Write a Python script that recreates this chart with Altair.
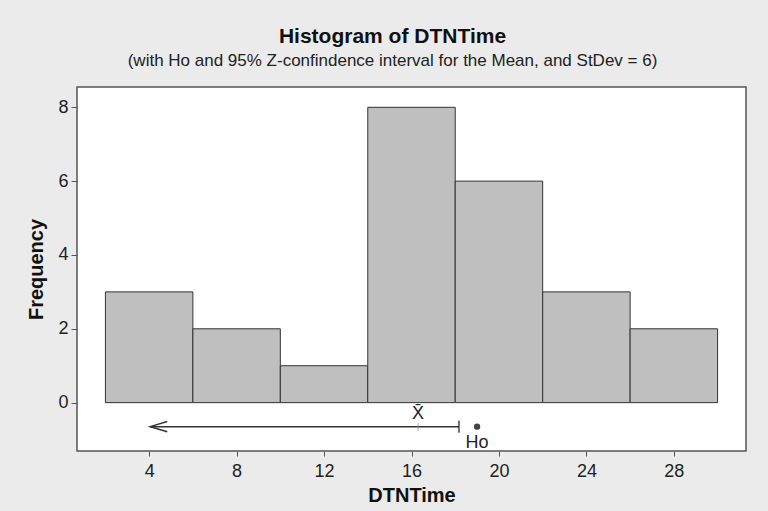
import altair as alt
import pandas as pd

# Histogram data
bin_left = [2, 6, 10, 14, 18, 22, 26]
bin_right = [6, 10, 14, 18, 22, 26, 30]
counts = [3, 2, 1, 8, 6, 3, 2]

# Confidence interval / hypothesis values
ci_arrow_end = [4.05]     # arrow tip (one-sided lower end drawn as arrow)
ci_upper = [18.17]
xbar = [16.3]
ho = [19.0]
ci_level_y = [-0.65]

x_ticks = [4, 8, 12, 16, 20, 24, 28]
y_ticks = [0, 2, 4, 6, 8]

FONT = "Liberation Sans"

hist = pd.DataFrame({"start": bin_left, "end": bin_right, "count": counts,
                     "zero": [0] * len(counts)})
ci = pd.DataFrame({"lo": ci_arrow_end, "hi": ci_upper, "xbar": xbar,
                   "ho": ho, "y": ci_level_y, "xlab": ["X̄"], "holab": ["Ho"]})

xs = alt.Scale(domain=[0.7, 31.3], nice=False, zero=False)
ys = alt.Scale(domain=[-1.31, 8.55], nice=False, zero=False)

xaxis = alt.Axis(values=x_ticks, title="DTNTime", grid=False, domain=False,
                 tickSize=5, tickColor="#555", labelPadding=6, titlePadding=5)
yaxis = alt.Axis(values=y_ticks, title="Frequency", grid=False, domain=False,
                 tickSize=6, tickColor="#555", labelPadding=3, titlePadding=11)

bars = alt.Chart(hist).mark_rect(fill="#bfbfbf", stroke="#333333", strokeWidth=1).encode(
    x=alt.X("start:Q", scale=xs, axis=xaxis),
    x2="end:Q",
    y=alt.Y("zero:Q", scale=ys, axis=yaxis),
    y2="count:Q",
)

base = alt.Chart(ci)

line = base.mark_rule(color="#333333", strokeWidth=1.5).encode(
    x=alt.X("lo:Q", scale=xs), x2="hi:Q", y=alt.Y("y:Q", scale=ys))

arrow = base.mark_point(shape="M2,-0.6L0,0L2,0.6", size=289, filled=False,
                        color="#333333", strokeWidth=1.5, opacity=1).encode(
    x=alt.X("lo:Q", scale=xs), y=alt.Y("y:Q", scale=ys))

cap = base.mark_tick(orient="vertical", size=12, thickness=2, color="#333333").encode(
    x=alt.X("hi:Q", scale=xs), y=alt.Y("y:Q", scale=ys))

xbar_tick = base.mark_tick(orient="vertical", size=8, thickness=1, color="#888888").encode(
    x=alt.X("xbar:Q", scale=xs), y=alt.Y("y:Q", scale=ys))

xbar_lab = base.mark_text(font=FONT, fontSize=18, dy=-13, color="#222222").encode(
    x=alt.X("xbar:Q", scale=xs), y=alt.Y("y:Q", scale=ys), text="xlab:N")

ho_pt = base.mark_circle(size=40, color="#444444", opacity=1).encode(
    x=alt.X("ho:Q", scale=xs), y=alt.Y("y:Q", scale=ys))

ho_lab = base.mark_text(font=FONT, fontSize=18, dy=16, color="#222222").encode(
    x=alt.X("ho:Q", scale=xs), y=alt.Y("y:Q", scale=ys), text="holab:N")

chart = alt.layer(bars, line, arrow, cap, xbar_tick, xbar_lab, ho_pt, ho_lab).properties(
    width=669, height=364,
    background="#ebebeb",
    padding={"left": 77, "top": 87, "right": 22, "bottom": 60},
    autosize=alt.AutoSizeParams(type="none"),
    title=alt.TitleParams(
        text="Histogram of DTNTime",
        subtitle="(with Ho and 95% Z-confindence interval for the Mean, and StDev = 6)",
        anchor="middle", dx=-19, offset=18,
        font=FONT, fontSize=21, fontWeight="bold", color="#111111",
        subtitleFont=FONT, subtitleFontSize=17, subtitleColor="#222222",
        subtitlePadding=6,
    ),
).configure_view(
    stroke="#555555", strokeWidth=1.5, fill="white"
).configure_axis(
    labelFont=FONT, labelFontSize=18, labelColor="#222222",
    titleFont=FONT, titleFontSize=20, titleFontWeight="bold", titleColor="#111111",
)

chart.save("out.html", embed_options={"renderer": "svg", "actions": False})
